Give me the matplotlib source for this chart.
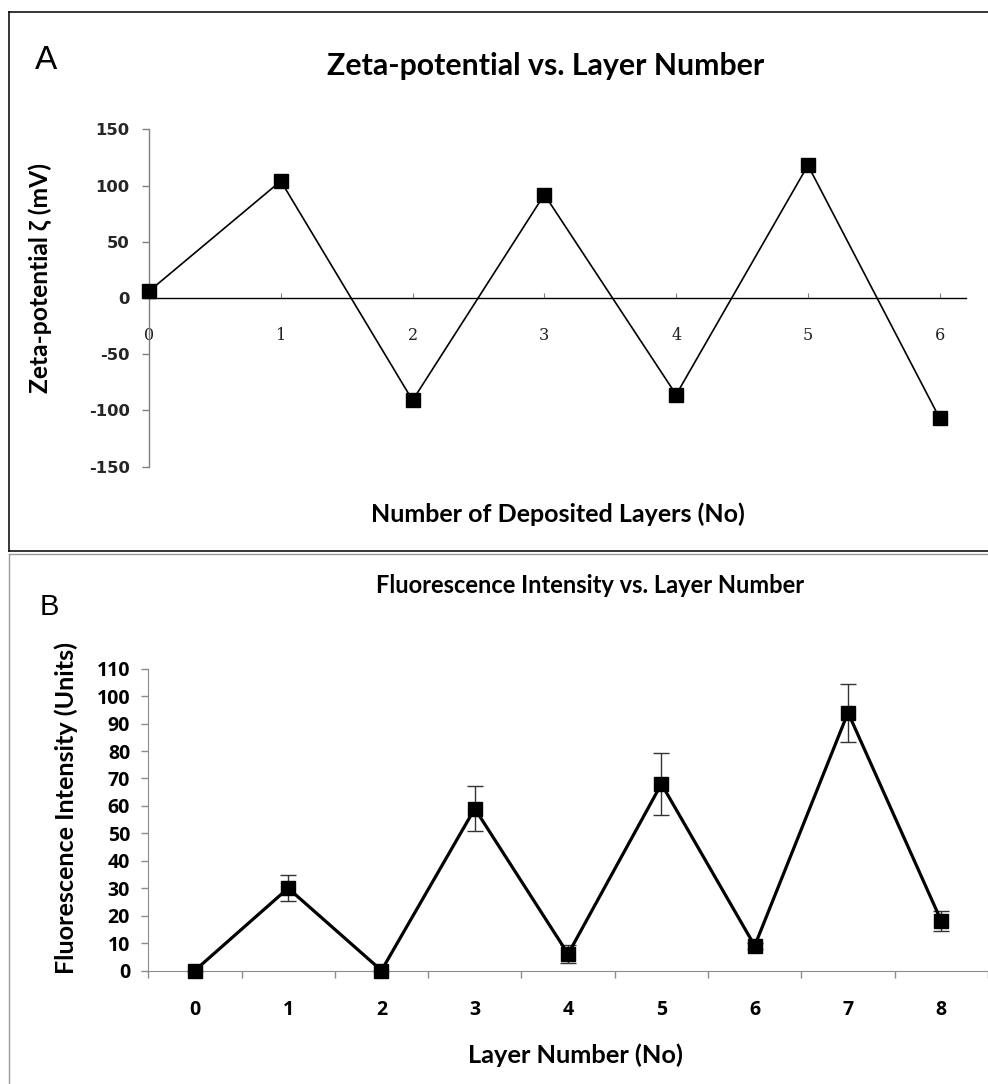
import matplotlib
matplotlib.use("Agg")
import matplotlib.pyplot as plt
from matplotlib.lines import Line2D

plt.rcParams["axes.unicode_minus"] = False

# ---------------- data ----------------
layers_a = [0, 1, 2, 3, 4, 5, 6]
zeta_mv = [6, 104, -91, 92, -86, 118, -107]
yticks_a = [-150, -100, -50, 0, 50, 100, 150]

layers_b = [0, 1, 2, 3, 4, 5, 6, 7, 8]
fluor = [0, 30, 0, 59, 6, 68, 9, 94, 18]
fluor_err = [0, 4.7, 0, 8.3, 3.3, 11.2, 1.0, 10.6, 3.6]
yticks_b = [0, 10, 20, 30, 40, 50, 60, 70, 80, 90, 100, 110]

W, H = 988, 1084
fig = plt.figure(figsize=(W / 100, H / 100), dpi=100)

SANS = ["Lato", "DejaVu Sans"]
TICKSANS = ["Open Sans", "DejaVu Sans"]

def fx(px):
    return px / W

def fy(py):
    return 1 - py / H

# ---------------- frames ----------------
fig.add_artist(Line2D([fx(9.3), fx(9.3)], [fy(12.3), fy(551)], color="black", lw=1.1))
fig.add_artist(Line2D([fx(9.3), 1.01], [fy(12.3), fy(12.3)], color="black", lw=1.1))
fig.add_artist(Line2D([fx(9.3), 1.01], [fy(551), fy(551)], color="black", lw=1.1))
fig.add_artist(Line2D([fx(9.3), 1.01], [fy(553.5), fy(553.5)], color="#9a9a9a", lw=1.0))
fig.add_artist(Line2D([fx(9.3), fx(9.3)], [fy(553.5), -0.01], color="#9a9a9a", lw=1.0))

# ---------------- panel A ----------------
axA = fig.add_axes([fx(149), fy(466.7), fx(965.7) - fx(149), (466.7 - 129.3) / H])
axA.plot(layers_a, zeta_mv, color="black", lw=1.2, marker="s", markersize=9.6,
         markerfacecolor="black", markeredgecolor="black", clip_on=False, zorder=3)
axA.set_xlim(0, 6.197)
axA.set_ylim(-150, 150)
axA.set_yticks(yticks_a)
axA.set_xticks(layers_a)
axA.spines["top"].set_visible(False)
axA.spines["right"].set_visible(False)
axA.spines["bottom"].set_position(("data", 0))
axA.spines["bottom"].set_color("black")
axA.spines["bottom"].set_linewidth(1.0)
axA.spines["left"].set_color("#808080")
axA.spines["left"].set_linewidth(1.0)
axA.tick_params(axis="y", direction="out", length=5, width=1.0, color="#808080", pad=9)
axA.tick_params(axis="x", direction="in", length=3.5, width=0.8, color="#808080", pad=21)
for t in axA.get_yticklabels():
    t.set_fontfamily(["DejaVu Sans"])
    t.set_fontweight("bold")
    t.set_fontsize(11.8)
    t.set_color("#262626")
for t in axA.get_xticklabels():
    t.set_fontfamily(["DejaVu Serif"])
    t.set_fontsize(11.5)
    t.set_color("#202020")

fig.text(fx(35), fy(69), "A", family=["Liberation Sans", "DejaVu Sans"], fontsize=24,
         ha="left", va="baseline")
fig.text(fx(545.3), fy(75.5), "Zeta-potential vs. Layer Number", family=SANS,
         fontweight="bold", fontsize=21.8, ha="center", va="baseline")
fig.text(fx(558.3), fy(521.7), "Number of Deposited Layers (No)", family=SANS,
         fontweight="bold", fontsize=18.0, ha="center", va="baseline")
fig.text(fx(40), fy(278.3), "Zeta-potential ζ (mV)", family=SANS, fontweight="bold",
         fontsize=17.7, rotation=90, ha="center", va="center")

# ---------------- panel B ----------------
unit = 93.625
x0 = 195.0
left_px = x0 - 0.5 * unit
right_val = (W - x0) / unit
axB = fig.add_axes([fx(left_px), fy(970.5), 1 - fx(left_px), (970.5 - 668.7) / H])
axB.errorbar(layers_b, fluor, yerr=fluor_err, fmt="none", ecolor="#333333",
             elinewidth=1.0, capsize=5.5, capthick=1.0, zorder=2, clip_on=False)
axB.plot(layers_b, fluor, color="black", lw=2.3, marker="s", markersize=10,
         markerfacecolor="black", markeredgecolor="black", clip_on=False, zorder=3)
axB.set_xlim(-0.5, right_val)
axB.set_ylim(0, 110)
axB.set_yticks(yticks_b)
axB.set_xticks(layers_b)
axB.set_xticks([v - 0.5 for v in layers_b] + [layers_b[-1] + 0.5], minor=True)
axB.spines["top"].set_visible(False)
axB.spines["right"].set_visible(False)
axB.spines["left"].set_color("#8c8c8c")
axB.spines["bottom"].set_color("#8c8c8c")
axB.tick_params(axis="y", direction="out", length=5, width=1.0, color="#8c8c8c", pad=8)
axB.tick_params(axis="x", which="major", length=0, pad=21)
axB.tick_params(axis="x", which="minor", direction="out", length=5, width=1.0, color="#8c8c8c")
for t in axB.get_yticklabels() + axB.get_xticklabels():
    t.set_fontfamily(TICKSANS)
    t.set_fontweight("bold")
    t.set_fontsize(14)
    t.set_color("black")

fig.text(fx(40), fy(615), "B", family=["Liberation Sans", "DejaVu Sans"], fontsize=21,
         ha="left", va="baseline")
fig.text(fx(589.8), fy(593.3), "Fluorescence Intensity vs. Layer Number", family=SANS,
         fontweight="bold", fontsize=17.0, ha="center", va="baseline")
fig.text(fx(575.5), fy(1063.3), "Layer Number (No)", family=SANS,
         fontweight="bold", fontsize=18.3, ha="center", va="baseline")
fig.text(fx(66), fy(808.3), "Fluorescence Intensity (Units)", family=SANS,
         fontweight="bold", fontsize=18.1, rotation=90, ha="center", va="center")

fig.savefig("out.png", dpi=100)
